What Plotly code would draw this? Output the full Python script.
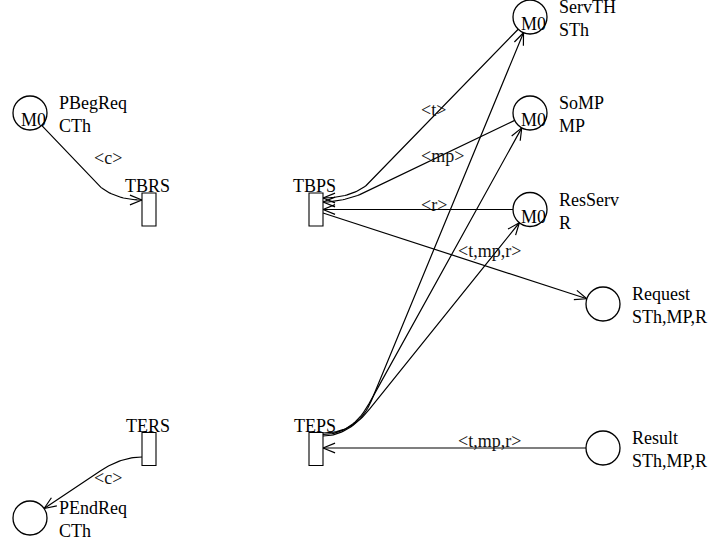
import math
import plotly.graph_objects as go

# ---------------- data ----------------
place_names = ["PBegReq", "ServTH", "SoMP", "ResServ", "Request", "Result", "PEndReq"]
place_domains = ["CTh", "STh", "MP", "R", "STh,MP,R", "STh,MP,R", "CTh"]
place_markings = ["M0", "M0", "M0", "M0", "", "", ""]

transition_names = ["TBRS", "TBPS", "TERS", "TEPS"]

arc_sources = ["PBegReq", "ServTH", "SoMP", "ResServ", "TBPS", "TEPS", "TEPS", "TEPS", "Result", "TERS"]
arc_targets = ["TBRS", "TBPS", "TBPS", "TBPS", "Request", "ServTH", "SoMP", "ResServ", "TEPS", "PEndReq"]
arc_labels = ["<c>", "<t>", "<mp>", "<r>", "<t,mp,r>", "", "", "", "<t,mp,r>", "<c>"]

# ---------------- layout (pixel canvas) ----------------
W, H = 712, 548
place_pos = {"PBegReq": (30, 113), "ServTH": (530, 17), "SoMP": (530, 113), "ResServ": (530, 209.5),
             "Request": (603, 304), "Result": (603, 448), "PEndReq": (30, 518)}
R_PLACE = 17
trans_pos = {"TBRS": (149, 209.5), "TBPS": (316, 209.5), "TERS": (149, 449), "TEPS": (316, 449)}
TW, TH = 14, 33
# port point on transition, corner point and bend radius for each arc (routing)
arc_port = [(142, 200), (323, 198), (323, 202), (323, 209.5), (323, 213),
            (323, 433), (323, 434.5), (323, 436), (323, 448), (142, 457)]
arc_corner = [(112, 200), (355, 198), (346, 202), None, None,
              (358, 433), (352, 434.5), (348, 436), None, (121, 457)]
arc_radius = [25, 25, 30, 0, 0, 35, 35, 35, 0, 25]
arc_label_pos = [(92, 158), (419, 110), (419, 156), (419, 205), (456, 251),
                 None, None, None, (456, 441), (92, 478)]

FONT = "Liberation Serif"
FS = 18


def unit(a, b):
    dx, dy = b[0] - a[0], b[1] - a[1]
    n = math.hypot(dx, dy)
    return dx / n, dy / n


def boundary(center, toward):
    ux, uy = unit(center, toward)
    return center[0] + ux * R_PLACE, center[1] + uy * R_PLACE


def quad(p0, c, p2, n=24):
    pts = []
    for i in range(n + 1):
        t = i / n
        x = (1 - t) ** 2 * p0[0] + 2 * (1 - t) * t * c[0] + t * t * p2[0]
        y = (1 - t) ** 2 * p0[1] + 2 * (1 - t) * t * c[1] + t * t * p2[1]
        pts.append((x, y))
    return pts


def arrow_head(tip, d, L=13, ang=22):
    a = math.radians(ang)
    pts = []
    for s in (1, -1):
        cx = d[0] * math.cos(s * a) - d[1] * math.sin(s * a)
        cy = d[0] * math.sin(s * a) + d[1] * math.cos(s * a)
        pts.append((tip[0] - L * cx, tip[1] - L * cy))
    return [pts[0], tip, pts[1]]


line_x, line_y = [], []
head_x, head_y = [], []
annotations = []

for i, (src, dst) in enumerate(zip(arc_sources, arc_targets)):
    port = arc_port[i]
    corner = arc_corner[i]
    r = arc_radius[i]
    if src in place_pos:  # place -> transition
        center = place_pos[src]
        start = boundary(center, corner if corner else port)
        if corner:
            ux, uy = unit(corner, start)
            q = (corner[0] + ux * r, corner[1] + uy * r)
            pts = [start] + quad(q, corner, port)
            d = unit(corner, port)
        else:
            pts = [start, port]
            d = unit(start, port)
        tip = port
    else:  # transition -> place
        center = place_pos[dst]
        end = boundary(center, corner if corner else port)
        if corner:
            ux, uy = unit(corner, end)
            q = (corner[0] + ux * r, corner[1] + uy * r)
            pts = quad(port, corner, q) + [end]
            d = unit(corner, end)
        else:
            pts = [port, end]
            d = unit(port, end)
        tip = end
    line_x += [p[0] for p in pts] + [None]
    line_y += [p[1] for p in pts] + [None]
    ah = arrow_head(tip, d)
    head_x += [p[0] for p in ah] + [None]
    head_y += [p[1] for p in ah] + [None]
    if arc_labels[i] and arc_label_pos[i]:
        lx, ly = arc_label_pos[i]
        annotations.append(dict(x=lx, y=ly, text=arc_labels[i].replace("<", "&lt;").replace(">", "&gt;"),
                                xanchor="left", yanchor="middle", showarrow=False,
                                font=dict(family=FONT, size=FS, color="#111")))

fig = go.Figure()
fig.add_trace(go.Scatter(x=line_x, y=line_y, mode="lines", line=dict(color="black", width=1.2),
                         hoverinfo="skip", showlegend=False))
fig.add_trace(go.Scatter(x=head_x, y=head_y, mode="lines", line=dict(color="black", width=1.2),
                         hoverinfo="skip", showlegend=False))

shapes = []
for name, dom, mk in zip(place_names, place_domains, place_markings):
    cx, cy = place_pos[name]
    shapes.append(dict(type="circle", x0=cx - R_PLACE, x1=cx + R_PLACE, y0=cy - R_PLACE, y1=cy + R_PLACE,
                       line=dict(color="black", width=1.3), fillcolor="white", layer="above"))
    if mk:
        annotations.append(dict(x=cx + 3, y=cy + 7, text=mk, showarrow=False, xanchor="center",
                                yanchor="middle", font=dict(family=FONT, size=FS, color="black")))
    annotations.append(dict(x=cx + 27, y=cy - 10, text=name, showarrow=False, xanchor="left",
                            yanchor="middle", font=dict(family=FONT, size=FS, color="black")))
    annotations.append(dict(x=cx + 27, y=cy + 13, text=dom, showarrow=False, xanchor="left",
                            yanchor="middle", font=dict(family=FONT, size=FS, color="black")))

for name in transition_names:
    cx, cy = trans_pos[name]
    shapes.append(dict(type="rect", x0=cx - TW / 2, x1=cx + TW / 2, y0=cy - TH / 2, y1=cy + TH / 2,
                       line=dict(color="black", width=1.1), fillcolor="white", layer="above"))
    annotations.append(dict(x=cx - 1.5, y=cy - TH / 2 - 7, text=name, showarrow=False, xanchor="center",
                            yanchor="middle", font=dict(family=FONT, size=FS, color="black")))

fig.update_layout(
    width=W, height=H, margin=dict(l=0, r=0, t=0, b=0),
    paper_bgcolor="white", plot_bgcolor="white",
    xaxis=dict(range=[0, W], visible=False, fixedrange=True),
    yaxis=dict(range=[H, 0], visible=False, fixedrange=True),
    shapes=shapes, annotations=annotations, showlegend=False,
)
fig.write_html("out.html", config={"displayModeBar": False},
               post_script="document.body.style.margin='0';document.body.style.padding='0';")
